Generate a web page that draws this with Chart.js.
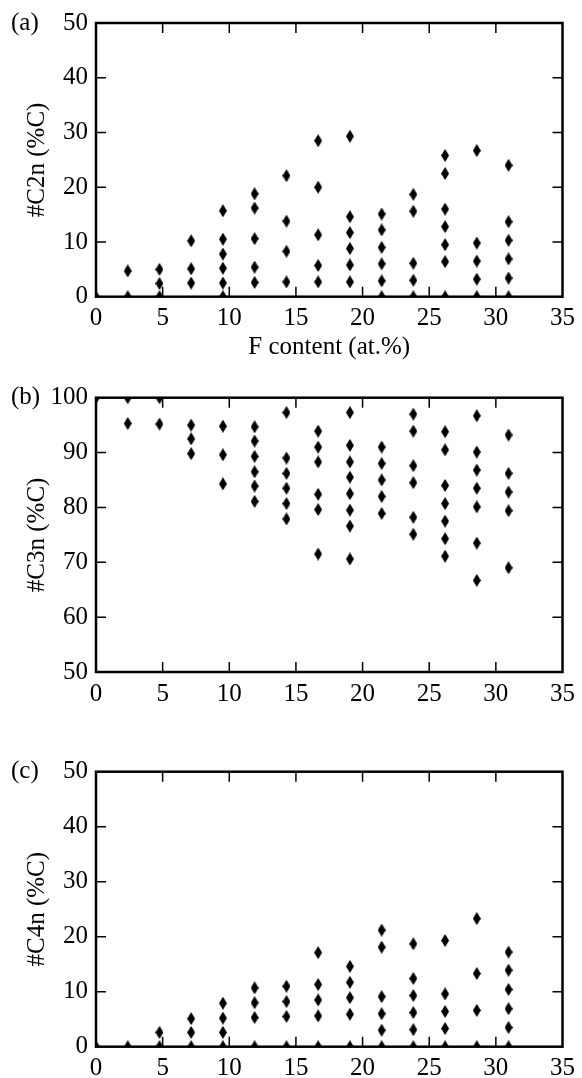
<!DOCTYPE html>
<html>
<head>
<meta charset="utf-8">
<script src="https://cdn.jsdelivr.net/npm/chart.js@4.4.1/dist/chart.umd.min.js"></script>
<style>
  html, body { margin: 0; padding: 0; background: #fff; }
  body { width: 582px; height: 1078px; position: relative; overflow: hidden; }
  .panel { position: absolute; left: 0; width: 582px; }
</style>
</head>
<body>
<div class="panel" style="top:0;height:370px"><canvas id="chart-a"></canvas></div>
<div class="panel" style="top:370px;height:340px"><canvas id="chart-b"></canvas></div>
<div class="panel" style="top:740px;height:338px"><canvas id="chart-c"></canvas></div>
<script>
// F content (at.%) of each sample column
var fContent = [0, 2.38, 4.76, 7.14, 9.52, 11.90, 14.29, 16.67, 19.05, 21.43, 23.81, 26.19, 28.57, 30.95];
var xTicks = [0, 5, 10, 15, 20, 25, 30, 35];

// #C2n (%C), one list per column
var c2n = [
  [0],
  [4.7, 0],
  [5.0, 2.4, 0],
  [10.2, 5.1, 2.5],
  [15.7, 10.5, 7.8, 5.2, 2.5, 0],
  [18.8, 16.2, 10.6, 5.4, 2.6],
  [22.1, 13.8, 8.3, 2.7],
  [28.5, 20.0, 11.3, 5.7, 2.7],
  [29.3, 14.6, 11.7, 8.8, 5.8, 2.7],
  [15.1, 12.2, 9.0, 6.0, 2.9, 0],
  [18.7, 15.6, 6.1, 3.0, 0],
  [25.8, 22.5, 16.0, 12.8, 9.5, 6.4, 0],
  [26.7, 9.8, 6.5, 3.2, 0],
  [24.0, 13.7, 10.3, 6.9, 3.4, 0]
];

// #C3n (%C)
var c3n = [
  [100],
  [100, 95.3],
  [100, 95.2],
  [95.0, 92.5, 89.8],
  [94.8, 89.6, 84.3],
  [94.7, 92.1, 89.3, 86.5, 83.9, 81.1],
  [97.3, 89.0, 86.2, 83.5, 80.7, 77.9],
  [93.9, 91.0, 88.3, 82.4, 79.6, 71.5],
  [97.3, 91.3, 88.3, 85.5, 82.5, 79.5, 76.6, 70.6],
  [91.0, 88.0, 85.0, 82.0, 78.9],
  [97.0, 93.9, 87.6, 84.5, 78.2, 75.1],
  [93.8, 90.5, 84.0, 80.7, 77.5, 74.3, 71.1],
  [96.7, 90.1, 86.8, 83.5, 80.1, 73.5, 66.7],
  [93.2, 86.2, 82.8, 79.4, 69.0]
];

// #C4n (%C)
var c4n = [
  [0],
  [0],
  [2.6, 0],
  [5.1, 2.6, 0],
  [7.9, 5.2, 2.6, 0],
  [10.7, 8.0, 5.3, 0],
  [11.0, 8.2, 5.5, 0],
  [17.1, 11.3, 8.5, 5.6, 0],
  [14.6, 11.7, 8.9, 5.9, 0],
  [21.2, 18.1, 9.1, 6.0, 3.0, 0],
  [18.7, 12.4, 9.3, 6.2, 3.1, 0],
  [19.3, 9.6, 6.4, 3.3, 0],
  [23.3, 13.3, 6.6, 0],
  [17.2, 13.9, 10.4, 6.9, 3.5, 0]
];

var serif = "'Liberation Serif', 'Times New Roman', serif";
var fontSize = 25;

// tall diamond marker
var diamond = document.createElement('canvas');
diamond.width = 8;
diamond.height = 13;
(function() {
  var g = diamond.getContext('2d');
  g.fillStyle = '#000';
  g.beginPath();
  g.moveTo(4, 0);
  g.lineTo(8, 6.5);
  g.lineTo(4, 13);
  g.lineTo(0, 6.5);
  g.closePath();
  g.fill();
})();

function toPoints(cols) {
  var pts = [];
  fContent.forEach(function(x, i) {
    cols[i].forEach(function(v) { pts.push({x: x, y: v}); });
  });
  return pts;
}

// frame with inward ticks on all four sides + panel letter
var framePlugin = {
  id: 'frame',
  afterDatasetsDraw: function(chart, args, opts) {
    var ctx = chart.ctx, a = chart.chartArea;
    var sx = chart.scales.x, sy = chart.scales.y;
    ctx.save();
    ctx.strokeStyle = '#000';
    ctx.lineWidth = 1.5;
    ctx.beginPath();
    sx.ticks.forEach(function(t) {
      var p = sx.getPixelForValue(t.value);
      if (p <= a.left + 1 || p >= a.right - 1) return;
      ctx.moveTo(p, a.bottom); ctx.lineTo(p, a.bottom - 10);
      ctx.moveTo(p, a.top); ctx.lineTo(p, a.top + 10);
    });
    sy.ticks.forEach(function(t) {
      var p = sy.getPixelForValue(t.value);
      if (p <= a.top + 1 || p >= a.bottom - 1) return;
      ctx.moveTo(a.left, p); ctx.lineTo(a.left + 10, p);
      ctx.moveTo(a.right, p); ctx.lineTo(a.right - 10, p);
    });
    ctx.stroke();
    ctx.lineWidth = 2.5;
    ctx.strokeRect(a.left, a.top, a.right - a.left, a.bottom - a.top);
    ctx.fillStyle = '#000';
    ctx.font = fontSize + 'px ' + serif;
    ctx.textBaseline = 'middle';
    ctx.textAlign = 'left';
    ctx.fillText(opts.letter, 11, a.top);
    ctx.restore();
  }
};

function makePanel(id, letter, cols, yMin, yMax, yTitle, xTitle, pad, xHeight) {
  return new Chart(document.getElementById(id), {
    type: 'scatter',
    data: {
      datasets: [{
        data: toPoints(cols),
        pointStyle: diamond,
        pointRadius: 6,
        clip: 0
      }]
    },
    options: {
      responsive: true,
      maintainAspectRatio: false,
      animation: false,
      layout: { padding: { top: pad, right: 15, left: 0, bottom: 0 } },
      plugins: {
        legend: { display: false },
        tooltip: { enabled: false },
        frame: { letter: letter }
      },
      scales: {
        x: {
          type: 'linear',
          min: 0, max: 35,
          afterBuildTicks: function(s) { s.ticks = xTicks.map(function(v) { return {value: v}; }); },
          afterFit: function(s) { s.height = xHeight; },
          grid: { display: false, drawTicks: false },
          border: { display: false },
          ticks: { color: '#000', padding: 7, maxRotation: 0, font: { family: serif, size: fontSize } },
          title: {
            display: !!xTitle, text: xTitle, color: '#000',
            font: { family: serif, size: fontSize },
            padding: { top: 0, bottom: 8 }
          }
        },
        y: {
          min: yMin, max: yMax,
          ticks: { stepSize: 10, color: '#000', padding: 8, font: { family: serif, size: fontSize } },
          afterFit: function(s) { s.width = 96; },
          grid: { display: false, drawTicks: false },
          border: { display: false },
          title: {
            display: true, text: yTitle, color: '#000',
            font: { family: serif, size: fontSize },
            padding: { top: 22, bottom: 0 }
          }
        }
      }
    },
    plugins: [framePlugin]
  });
}

makePanel('chart-a', '(a)', c2n, 0, 50, '#C2n (%C)', 'F content (at.%)', 22, 73.3);
makePanel('chart-b', '(b)', c3n, 50, 100, '#C3n (%C)', '', 27.7, 38);
makePanel('chart-c', '(c)', c4n, 0, 50, '#C4n (%C)', '', 31.7, 31.3);
</script>
</body>
</html>
